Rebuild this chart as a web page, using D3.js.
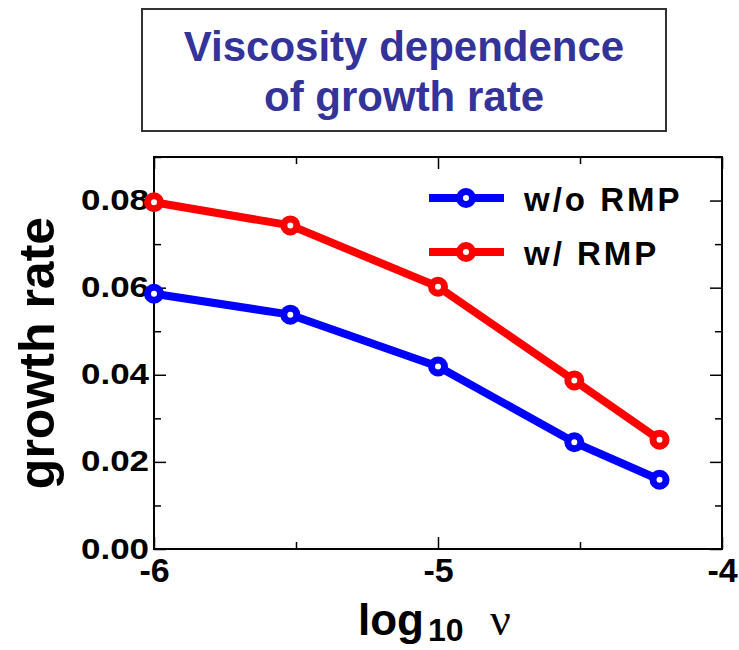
<!DOCTYPE html>
<html>
<head>
<meta charset="utf-8">
<script src="https://cdn.jsdelivr.net/npm/d3@7/dist/d3.min.js"></script>
<style>
  html, body { margin: 0; padding: 0; background: #fff; }
  svg { display: block; }
  text { font-family: "Liberation Sans", Arial, Helvetica, sans-serif; }
</style>
</head>
<body>
<svg id="chart" width="739" height="650"></svg>
<script>
// log10 of the kinematic viscosity for each run
const logNu = [-6, -5.52, -5, -4.52, -4.22];
// growth rates without / with resonant magnetic perturbation
const growthNoRMP = [0.0586, 0.0538, 0.0419, 0.0245, 0.0159];
const growthRMP   = [0.0796, 0.0743, 0.0602, 0.0387, 0.0251];
const seriesNames = ["w/o RMP", "w/ RMP"];
const seriesColors = ["#0000ff", "#ff0000"];
const xTicks = [-6, -5, -4];
const xMinorTicks = [-5.5, -4.5];
const yTicks = [0, 0.02, 0.04, 0.06, 0.08];
const yMinorTicks = [0.01, 0.03, 0.05, 0.07, 0.09];
const titleLines = ["Viscosity dependence", "of growth rate"];

const svg = d3.select("#chart");

// plot frame
const plotLeft = 154, plotRight = 722, plotTop = 157, plotBottom = 549;
const x = d3.scaleLinear().domain([-6, -4]).range([plotLeft, plotRight]);
const y = d3.scaleLinear().domain([0, 0.09]).range([plotBottom, plotTop]);

// title box
svg.append("rect")
  .attr("x", 142).attr("y", 9).attr("width", 524).attr("height", 122)
  .attr("fill", "#fff").attr("stroke", "#333").attr("stroke-width", 2);
svg.append("g").selectAll("text").data(titleLines).join("text")
  .attr("x", 404).attr("y", (d, i) => 61 + i * 50)
  .attr("text-anchor", "middle")
  .style("font-size", "42px").attr("font-weight", "bold")
  .attr("fill", "#333399")
  .text(d => d);

// axes: ticks point inward on all four sides
const g = svg.append("g");
const axisStyle = sel => {
  sel.select(".domain").remove();
  sel.selectAll(".tick line").attr("stroke", "#000").attr("stroke-width", 1.5);
};
g.append("g").attr("transform", `translate(0,${plotBottom})`)
  .call(d3.axisBottom(x).tickValues(xTicks).tickSize(-12).tickFormat(d3.format("d")))
  .call(axisStyle)
  .call(s => s.selectAll("text").attr("y", 33).attr("dy", 0)
    .style("font-size", "34px").attr("font-weight", "bold").attr("fill", "#000")
    .text(d => "-" + Math.abs(d)));
g.append("g").attr("transform", `translate(0,${plotBottom})`)
  .call(d3.axisBottom(x).tickValues(xMinorTicks).tickSize(-7).tickFormat(""))
  .call(axisStyle);
g.append("g").attr("transform", `translate(0,${plotTop})`)
  .call(d3.axisTop(x).tickValues(xTicks).tickSize(-12).tickFormat(""))
  .call(axisStyle);
g.append("g").attr("transform", `translate(0,${plotTop})`)
  .call(d3.axisTop(x).tickValues(xMinorTicks).tickSize(-7).tickFormat(""))
  .call(axisStyle);

g.append("g").attr("transform", `translate(${plotLeft},0)`)
  .call(d3.axisLeft(y).tickValues(yTicks).tickSize(-12).tickFormat(d3.format(".2f")))
  .call(axisStyle)
  .call(s => s.selectAll("text").attr("x", -5).attr("dy", "0.3em")
    .style("font-size", "30px").attr("font-weight", "bold").attr("fill", "#000")
    .attr("textLength", 68).attr("lengthAdjust", "spacingAndGlyphs"));
g.append("g").attr("transform", `translate(${plotLeft},0)`)
  .call(d3.axisLeft(y).tickValues(yMinorTicks).tickSize(-7).tickFormat(""))
  .call(axisStyle);
g.append("g").attr("transform", `translate(${plotRight},0)`)
  .call(d3.axisRight(y).tickValues(yTicks).tickSize(-12).tickFormat(""))
  .call(axisStyle);
g.append("g").attr("transform", `translate(${plotRight},0)`)
  .call(d3.axisRight(y).tickValues(yMinorTicks).tickSize(-7).tickFormat(""))
  .call(axisStyle);

// frame lines
svg.append("path")
  .attr("d", `M${plotLeft},${plotTop}H${plotRight}V${plotBottom}H${plotLeft}Z`)
  .attr("fill", "none").attr("stroke", "#000").attr("stroke-width", 2);

// axis titles
svg.append("text")
  .attr("transform", `translate(54,${(plotTop + plotBottom) / 2}) rotate(-90)`)
  .attr("text-anchor", "middle")
  .style("font-size", "50px").attr("font-weight", "bold").attr("fill", "#000")
  .text("growth rate");

const xTitle = svg.append("g").attr("fill", "#000");
xTitle.append("text")
  .attr("x", 358).attr("y", 635)
  .style("font-size", "44px").attr("font-weight", "bold")
  .text("log");
xTitle.append("text")
  .attr("x", 428).attr("y", 641)
  .style("font-size", "32px").attr("font-weight", "bold")
  .text("10");
xTitle.append("text")
  .attr("x", 490).attr("y", 635)
  .style("font-size", "46px")
  .style("font-family", "'Liberation Serif', 'Times New Roman', serif")
  .text("ν");

// series lines and markers
const series = [growthNoRMP, growthRMP];
const line = d3.line().x((d, i) => x(logNu[i])).y(d => y(d));
series.forEach((vals, k) => {
  svg.append("path").datum(vals)
    .attr("d", line)
    .attr("fill", "none").attr("stroke", seriesColors[k])
    .attr("stroke-width", 8).attr("stroke-linejoin", "round");
  svg.append("g").selectAll("circle").data(vals).join("circle")
    .attr("cx", (d, i) => x(logNu[i])).attr("cy", d => y(d))
    .attr("r", 6.5).attr("fill", "#fff")
    .attr("stroke", seriesColors[k]).attr("stroke-width", 7);
});

// legend
const legend = svg.append("g");
seriesNames.forEach((name, k) => {
  const ly = 198 + k * 54;
  legend.append("line")
    .attr("x1", 429).attr("x2", 504).attr("y1", ly).attr("y2", ly)
    .attr("stroke", seriesColors[k]).attr("stroke-width", 8);
  legend.append("circle")
    .attr("cx", 466).attr("cy", ly).attr("r", 6.5)
    .attr("fill", "#fff").attr("stroke", seriesColors[k]).attr("stroke-width", 7);
  legend.append("text")
    .attr("x", 524).attr("y", ly + 13)
    .style("font-size", "33px").attr("font-weight", "bold").attr("fill", "#000")
    .attr("letter-spacing", 3)
    .text(name);
});
</script>
</body>
</html>
